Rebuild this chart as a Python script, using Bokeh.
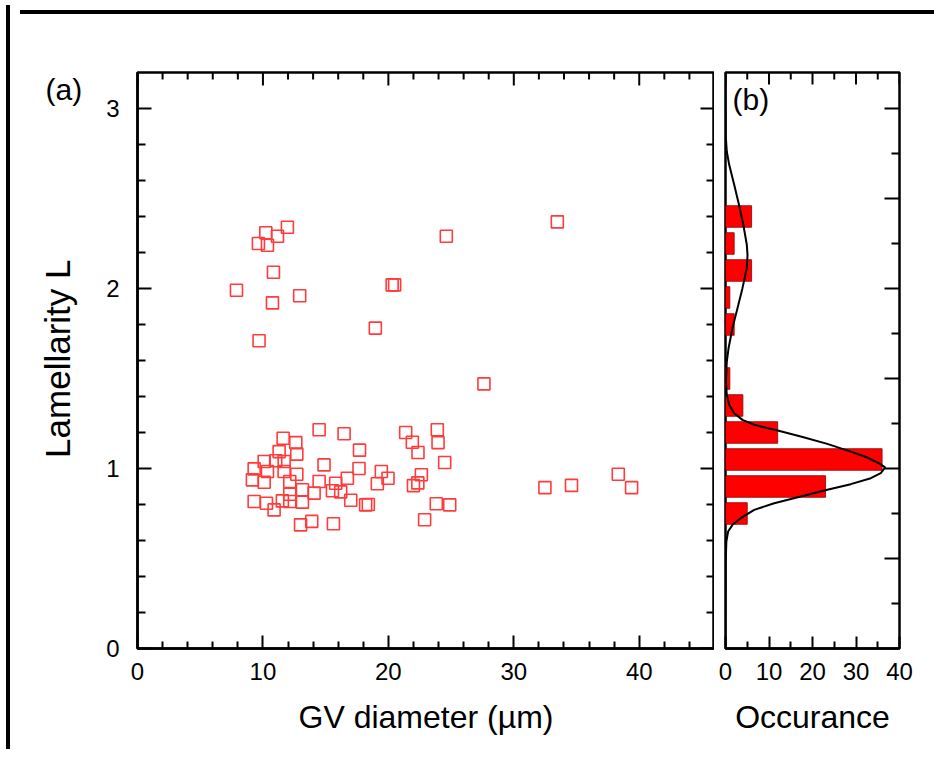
import math
from bokeh.plotting import figure
from bokeh.models import Range1d, FixedTicker, Label, Div, Spacer
from bokeh.layouts import row, column
from bokeh.embed import file_html
from bokeh.resources import INLINE

# ---------------- data ----------------
gv_diameter = [
    11.95, 10.23, 11.16, 9.64, 10.36, 10.84, 7.89, 10.76, 12.93, 9.69,
    24.62, 20.30, 20.50, 18.96, 33.47, 27.62,
    32.48, 34.60, 38.33, 39.39,
    14.48, 16.47, 11.61, 12.62, 17.70, 11.29, 12.70, 10.10, 11.02, 11.69,
    14.87, 9.30, 10.36, 11.69, 12.70, 17.66, 9.16, 10.10, 12.14, 14.48,
    15.80, 16.73, 13.15, 14.08, 15.54, 16.20, 12.14, 9.30, 10.28, 11.55,
    12.14, 13.15, 10.89, 17.00, 13.00, 13.89, 15.62,
    21.38, 23.90, 21.91, 23.96, 22.36, 24.49, 19.44, 19.97, 19.12, 22.63,
    22.00, 22.35, 18.19, 18.40, 23.82, 24.89, 22.89,
]
lamellarity = [
    2.34, 2.31, 2.29, 2.25, 2.24, 2.09, 1.99, 1.92, 1.96, 1.71,
    2.29, 2.02, 2.02, 1.78, 2.37, 1.47,
    0.894, 0.906, 0.968, 0.894,
    1.215, 1.193, 1.168, 1.144, 1.102, 1.094, 1.080, 1.039, 1.043, 1.039,
    1.020, 0.998, 0.983, 0.983, 0.968, 1.000, 0.937, 0.924, 0.928, 0.928,
    0.918, 0.946, 0.882, 0.863, 0.876, 0.870, 0.857, 0.817, 0.807, 0.820,
    0.817, 0.813, 0.770, 0.824, 0.687, 0.706, 0.693,
    1.200, 1.215, 1.146, 1.144, 1.089, 1.033, 0.983, 0.946, 0.915, 0.965,
    0.905, 0.920, 0.798, 0.800, 0.804, 0.798, 0.715,
]

hist_L = [0.75, 0.90, 1.05, 1.20, 1.35, 1.50, 1.80, 1.95, 2.10, 2.25, 2.40]
hist_count = [5, 23, 36, 12, 4, 1, 2, 1, 6, 2, 6]

fit_L = [0.0, 0.483, 0.594, 0.650, 0.687, 0.724, 0.770, 0.807, 0.844, 0.882,
         0.913, 0.946, 0.974, 1.006, 1.029, 1.061, 1.094, 1.137, 1.178, 1.211,
         1.243, 1.270, 1.307, 1.354, 1.409, 1.483, 1.594, 1.668, 1.780, 1.891,
         2.002, 2.113, 2.187, 2.243, 2.354, 2.465, 2.576, 2.687, 2.761, 2.850,
         3.200]
fit_occ = [0.0, 0.05, 0.2, 0.6, 1.6, 3.5, 6.6, 11.2, 17.3, 23.4,
           28.8, 33.4, 35.7, 36.7, 35.3, 32.6, 28.8, 23.4, 17.3, 12.0,
           6.6, 3.9, 2.0, 0.85, 0.3, 0.1, 0.3, 0.7, 1.6, 2.76,
           3.9, 4.9, 5.06, 4.9, 4.1, 3.1, 2.0, 0.85, 0.3, 0.05,
           0.0]

a_x_major = [0, 10, 20, 30, 40]
a_x_minor = [2, 4, 6, 8, 12, 14, 16, 18, 22, 24, 26, 28, 32, 34, 36, 38, 42, 44]
a_y_major = [0, 1, 2, 3]
a_y_minor = [0.2, 0.4, 0.6, 0.8, 1.2, 1.4, 1.6, 1.8, 2.2, 2.4, 2.6, 2.8]
b_x_major = [0, 10, 20, 30, 40]
b_x_minor = [5, 15, 25, 35]
b_y_major = [0.5, 1.0, 1.5, 2.0, 2.5, 3.0]
b_y_minor = [0.25, 0.75, 1.25, 1.75, 2.25, 2.75]

FONT = "Liberation Sans"
TOP, BOTTOM = 53, 106


def style_axis(ax, maj_len, min_len):
    ax.axis_line_width = 2.5
    ax.axis_line_color = "black"
    ax.major_tick_in = maj_len
    ax.major_tick_out = 0
    ax.minor_tick_in = min_len
    ax.minor_tick_out = 0
    ax.major_tick_line_width = 2
    ax.minor_tick_line_width = 2
    ax.major_tick_line_color = "black"
    ax.minor_tick_line_color = "black"
    ax.major_label_text_font = FONT
    ax.major_label_text_color = "black"
    ax.major_label_text_font_size = "24px"
    ax.axis_label_text_font = FONT
    ax.axis_label_text_font_style = "normal"
    ax.axis_label_text_color = "black"


def mirror_ticks(p, xs, ys, length, angle):
    # inward tick marks on the frame edges without labels
    p.ray(x=xs, y=ys, length=length, length_units="screen", angle=angle,
          line_color="black", line_width=2)


# ---------------- panel (a) ----------------
pa = figure(frame_width=577, frame_height=576,
            x_range=Range1d(0, 46), y_range=Range1d(0, 3.2),
            min_border_left=40, min_border_right=0,
            min_border_top=TOP, min_border_bottom=BOTTOM,
            output_backend="svg", toolbar_location=None)
pa.xgrid.visible = False
pa.ygrid.visible = False
pa.outline_line_color = "black"
pa.outline_line_width = 2.5

pa.xaxis.ticker = FixedTicker(ticks=a_x_major, minor_ticks=a_x_minor)
pa.yaxis.ticker = FixedTicker(ticks=a_y_major, minor_ticks=a_y_minor)
style_axis(pa.xaxis[0], 13, 7)
style_axis(pa.yaxis[0], 14, 8)
pa.xaxis.major_label_standoff = 14
pa.yaxis.major_label_standoff = 18
pa.xaxis.axis_label = "GV diameter (µm)"
pa.xaxis.axis_label_text_font_size = "32px"
pa.xaxis.axis_label_standoff = 16

top_a = pa.y_range.end
right_a = pa.x_range.end
mirror_ticks(pa, a_x_major, [top_a] * len(a_x_major), 13, -math.pi / 2)
mirror_ticks(pa, a_x_minor, [top_a] * len(a_x_minor), 7, -math.pi / 2)
mirror_ticks(pa, [right_a] * len(a_y_major), a_y_major, 14, math.pi)
mirror_ticks(pa, [right_a] * len(a_y_minor), a_y_minor, 8, math.pi)

pa.scatter(gv_diameter, lamellarity, marker="square", size=12,
           fill_color=None, line_color="#ff3b3b", line_width=1.6)

# ---------------- left strip: panel label and y title (shares L scale) ----
strip = figure(frame_width=82, frame_height=576,
               x_range=Range1d(13, 95), y_range=pa.y_range,
               x_axis_location=None, y_axis_location=None,
               min_border_left=0, min_border_right=0,
               min_border_top=TOP, min_border_bottom=BOTTOM,
               output_backend="svg", toolbar_location=None)
strip.grid.visible = False
strip.outline_line_color = None
strip.add_layout(Label(x=43, y=3.2, text="(a)", text_baseline="top",
                       text_align="left", text_font=FONT,
                       text_font_size="30px", text_color="black"))
strip.add_layout(Label(x=55, y=1.61, text="Lamellarity L", angle=math.pi / 2,
                       text_baseline="middle", text_align="center",
                       text_font=FONT, text_font_size="35px",
                       text_color="black"))

# ---------------- panel (b) ----------------
pb = figure(frame_width=174, frame_height=576,
            x_range=Range1d(0, 40), y_range=pa.y_range,
            y_axis_location=None,
            min_border_left=11, min_border_right=30,
            min_border_top=TOP, min_border_bottom=BOTTOM,
            output_backend="svg", toolbar_location=None)
pb.xgrid.visible = False
pb.ygrid.visible = False
pb.outline_line_color = "black"
pb.outline_line_width = 2.5

pb.xaxis.ticker = FixedTicker(ticks=b_x_major, minor_ticks=b_x_minor)
style_axis(pb.xaxis[0], 12, 7)
pb.xaxis.major_label_standoff = 14
pb.xaxis.axis_label = "Occurance"
pb.xaxis.axis_label_text_font_size = "32px"
pb.xaxis.axis_label_standoff = 16

top_b = pb.y_range.end
right_b = pb.x_range.end
mirror_ticks(pb, b_x_major, [top_b] * len(b_x_major), 12, -math.pi / 2)
mirror_ticks(pb, b_x_minor, [top_b] * len(b_x_minor), 7, -math.pi / 2)
mirror_ticks(pb, [right_b] * len(b_y_major), b_y_major, 15, math.pi)
mirror_ticks(pb, [right_b] * len(b_y_minor), b_y_minor, 8, math.pi)

pb.hbar(y=hist_L, left=0, right=hist_count, height=0.12,
        fill_color="#ff0000", line_color="#8a0000", line_width=0.8)
pb.line(fit_occ, fit_L, line_color="black", line_width=2)

pb.add_layout(Label(x=1.6, y=3.14, text="(b)", text_baseline="top",
                    text_font=FONT, text_font_size="30px", text_color="black"))

# ---------------- outer frame and layout ----------------
left_bar = Div(text="", width=4, height=744, styles={"background-color": "black"})
top_bar = Div(text="", width=914, height=4, styles={"background-color": "black"})

layout = row(
    Spacer(width=1, height=744),
    left_bar,
    column(Spacer(width=914, height=5), top_bar, row(strip, pa, pb)),
)

open("out.html", "w").write(file_html(layout, INLINE))
